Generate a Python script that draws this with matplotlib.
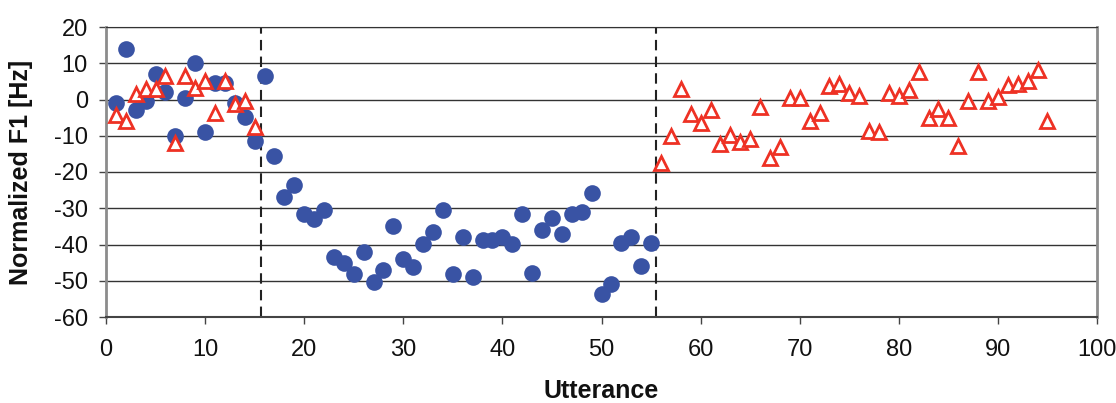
import matplotlib
matplotlib.use("Agg")
import matplotlib.pyplot as plt
import numpy as np

plt.rcParams['axes.unicode_minus'] = False

# Blue circles: utterances 1-55
circle_x = list(range(1, 56))
circle_y = [-1, 14, -3, -0.5, 7, 2, -10, 0.5, 10, -9,
            4.5, 4.5, -1, -4.7, -11.5, 6.5, -15.5, -27, -23.5, -31.5,
            -33, -30.5, -43.5, -45, -48, -42, -50.3, -47, -35, -44,
            -46.3, -39.8, -36.5, -30.5, -48, -37.9, -49, -38.7, -38.7, -38,
            -39.8, -31.7, -47.8, -35.9, -32.8, -37.2, -31.7, -30.9, -25.7, -53.6,
            -51, -39.5, -38, -45.8, -39.5]

# Red triangles: utterances 1-15 and 56-95
tri_x = list(range(1, 16)) + list(range(56, 96))
tri_y = [-4.4, -5.8, 1.6, 3, 3, 6.6, -12, 6.6, 3.3, 5.2,
         -3.6, 5, -1.2, -0.5, -7.7,
         -17.4, -10, 3, -3.9, -6.6, -2.8, -12.4, -9.7, -11.6, -11,
         -2.2, -16, -13, 0.5, 0.3, -6, -3.6, 3.6, 4.4, 1.7,
         1.1, -8.6, -9, 1.9, 1.1, 2.5, 7.5, -5, -2.5, -5.2,
         -12.7, -0.3, 7.5, -0.5, 0.6, 4, 4.3, 5, 8.2, -5.8]

boundaries = [15.6, 55.5]

fam = ['Liberation Sans', 'DejaVu Sans']

fig = plt.figure(figsize=(11.16, 4.03), dpi=100)
ax = fig.add_axes([106/1116, 1 - 317/403, (1097-106)/1116, (317-27)/403])

ax.set_xlim(0, 100)
ax.set_ylim(-60, 20)
ax.set_xticks(np.arange(0, 101, 10))
ax.set_yticks(np.arange(-60, 21, 10))

# horizontal grid
for yv in np.arange(-50, 21, 10):
    ax.axhline(yv, color='#333333', lw=1.0, zorder=1)

# section boundaries
for b in boundaries:
    ax.axvline(b, color='#222222', lw=1.5, ls=(0, (5, 3)), zorder=2)

ax.plot(circle_x, circle_y, 'o', color='#3953A4', markersize=12,
        markeredgewidth=0, zorder=3)
ax.plot(tri_x, tri_y, '^', markerfacecolor='white', markeredgecolor='#EE3124',
        markersize=10.5, markeredgewidth=2, zorder=4)

for side in ['left', 'right']:
    ax.spines[side].set_color('#8c8c8c')
    ax.spines[side].set_linewidth(2)
ax.spines['top'].set_color('#333333')
ax.spines['bottom'].set_color('#444444')
ax.spines['bottom'].set_linewidth(1.5)

ax.tick_params(axis='both', direction='out', length=5, width=1, colors='#444444',
               labelcolor='#111111', labelsize=17)
ax.tick_params(axis='y', pad=8)
ax.tick_params(axis='x', pad=11)
for lab in ax.get_xticklabels() + ax.get_yticklabels():
    lab.set_family(fam)

ax.set_xlabel('Utterance', family=fam, fontsize=18, fontweight='bold', color='#111111')
ax.set_ylabel('Normalized F1 [Hz]', family=fam, fontsize=18, fontweight='bold', color='#111111')
ax.xaxis.set_label_coords(0.5, -0.215)
ax.yaxis.set_label_coords(-0.074, 0.5)

fig.savefig('out.png', dpi=100)
